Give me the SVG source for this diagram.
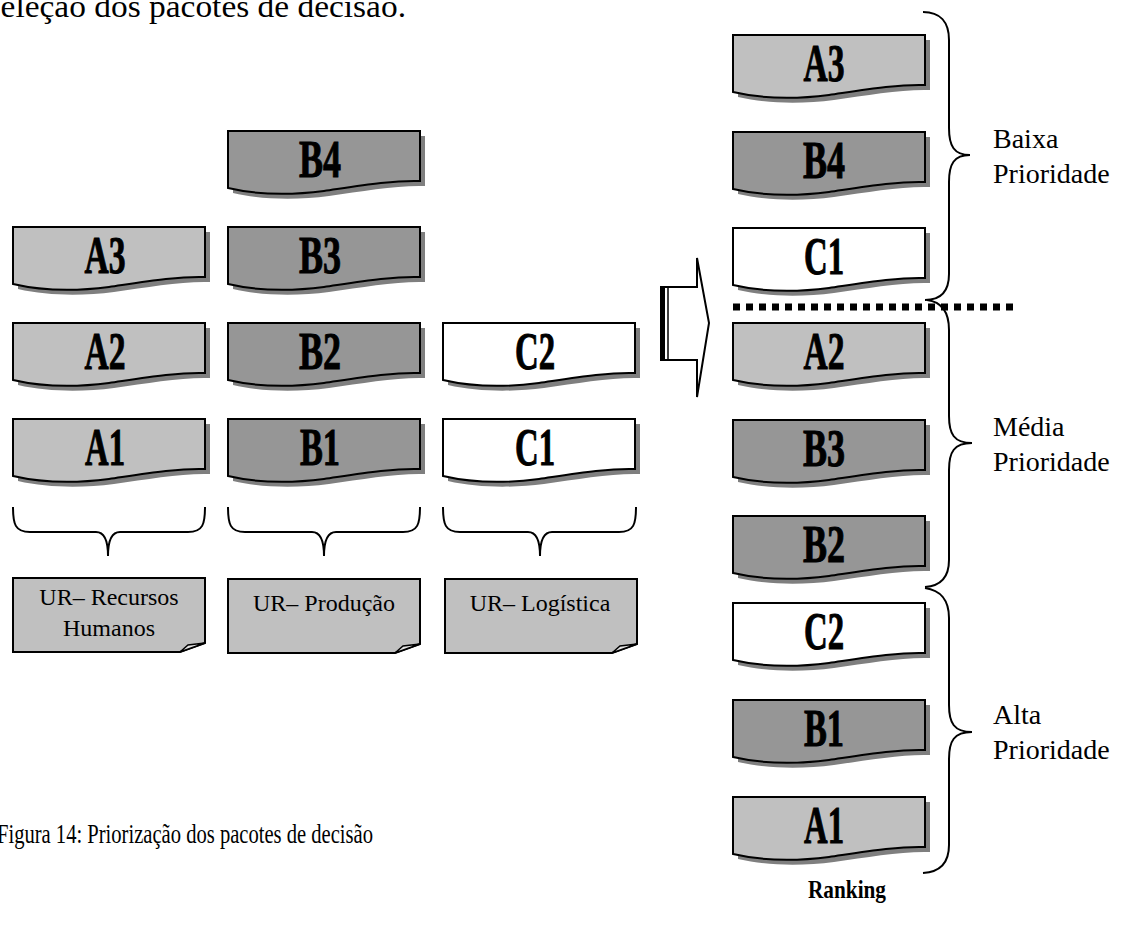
<svg xmlns="http://www.w3.org/2000/svg" xmlns:xlink="http://www.w3.org/1999/xlink" width="1132" height="928" viewBox="0 0 1132 928">
<style>
.sh{fill:#7f7f7f}
.a{fill:#c0c0c0;stroke:#000;stroke-width:2}
.b{fill:#969696;stroke:#000;stroke-width:2}
.c{fill:#fff;stroke:#000;stroke-width:2}
.lbl{font-family:"Liberation Serif",serif;font-weight:bold;font-size:52px;fill:#000;stroke:#000;stroke-width:1;text-anchor:middle}
.ur{fill:#c0c0c0;stroke:#000;stroke-width:2}
.fold{fill:#e6e6e6;stroke:#000;stroke-width:1.5}
.t{font-family:"Liberation Serif",serif;fill:#000}
.tc{font-family:"Liberation Serif",serif;font-size:24px;fill:#000;text-anchor:middle}
.pr{font-family:"Liberation Serif",serif;font-size:28px;fill:#000}
.br{fill:none;stroke:#000;stroke-width:2}
</style>
<defs>
<path id="doc" d="M0,0 H192 V50 C165,49 130,55 96,60 C65,64 30,64 0,57 Z"/>
<path id="urb" d="M0,0 H192 V65 L167,74 H0 Z"/>
<path id="urf" d="M167,74 L175,67 L192,65 Z"/>
</defs>
<rect width="1132" height="928" fill="#fff"/>
<text class="t" x="406" y="17" style="font-size:31px" text-anchor="end" textLength="424" lengthAdjust="spacingAndGlyphs">Seleção dos pacotes de decisão.</text>

<g id="L-B4"><use href="#doc" class="sh" transform="translate(233,136)"/><use href="#doc" class="b" transform="translate(228,131)"/><text class="lbl" x="320" y="177" textLength="42" lengthAdjust="spacingAndGlyphs">B4</text></g>
<g id="L-A3"><use href="#doc" class="sh" transform="translate(18,232)"/><use href="#doc" class="a" transform="translate(13,227)"/><text class="lbl" x="105" y="273" textLength="41" lengthAdjust="spacingAndGlyphs">A3</text></g>
<g id="L-B3"><use href="#doc" class="sh" transform="translate(233,232)"/><use href="#doc" class="b" transform="translate(228,227)"/><text class="lbl" x="320" y="273" textLength="42" lengthAdjust="spacingAndGlyphs">B3</text></g>
<g id="L-A2"><use href="#doc" class="sh" transform="translate(18,328)"/><use href="#doc" class="a" transform="translate(13,323)"/><text class="lbl" x="105" y="369" textLength="41" lengthAdjust="spacingAndGlyphs">A2</text></g>
<g id="L-B2"><use href="#doc" class="sh" transform="translate(233,328)"/><use href="#doc" class="b" transform="translate(228,323)"/><text class="lbl" x="320" y="369" textLength="42" lengthAdjust="spacingAndGlyphs">B2</text></g>
<g id="L-C2"><use href="#doc" class="sh" transform="translate(448,328)"/><use href="#doc" class="c" transform="translate(443,323)"/><text class="lbl" x="535" y="369" textLength="40" lengthAdjust="spacingAndGlyphs">C2</text></g>
<g id="L-A1"><use href="#doc" class="sh" transform="translate(18,424)"/><use href="#doc" class="a" transform="translate(13,419)"/><text class="lbl" x="105" y="465" textLength="40" lengthAdjust="spacingAndGlyphs">A1</text></g>
<g id="L-B1"><use href="#doc" class="sh" transform="translate(233,424)"/><use href="#doc" class="b" transform="translate(228,419)"/><text class="lbl" x="320" y="465" textLength="40" lengthAdjust="spacingAndGlyphs">B1</text></g>
<g id="L-C1"><use href="#doc" class="sh" transform="translate(448,424)"/><use href="#doc" class="c" transform="translate(443,419)"/><text class="lbl" x="535" y="465" textLength="40" lengthAdjust="spacingAndGlyphs">C1</text></g>

<g id="braces-bottom">
<path class="br" d="M13,507 C13,524 15,532 30,532 H96 C104,532 108,540 108,556 C108,540 112,532 120,532 H188 C203,532 205,524 205,507"/>
<path class="br" d="M228,507 C228,524 230,532 245,532 H312 C320,532 324,540 324,556 C324,540 328,532 336,532 H403 C418,532 420,524 420,507"/>
<path class="br" d="M443,507 C443,524 445,532 460,532 H528 C536,532 540,540 540,556 C540,540 544,532 552,532 H619 C634,532 636,524 636,507"/>
</g>

<g id="UR-RH"><use href="#urb" class="ur" transform="translate(13,578)"/><use href="#urf" class="fold" transform="translate(13,578)"/><text class="tc" x="109" y="605">UR– Recursos</text><text class="tc" x="109" y="636">Humanos</text></g>
<g id="UR-P"><use href="#urb" class="ur" transform="translate(228,579)"/><use href="#urf" class="fold" transform="translate(228,579)"/><text class="tc" x="324" y="611">UR– Produção</text></g>
<g id="UR-L"><use href="#urb" class="ur" transform="translate(445,579)"/><use href="#urf" class="fold" transform="translate(445,579)"/><text class="tc" x="540" y="611">UR– Logística</text></g>

<g id="arrow">
<path d="M660,287 H697 V258 L709,323 L697,397 V360 H660" fill="#fff" stroke="#000" stroke-width="2"/>
<rect x="660" y="287" width="5" height="73" fill="#000"/>
<line x1="668" y1="287" x2="668" y2="360" stroke="#000" stroke-width="1.5"/>
</g>

<g id="R-A3"><use href="#doc" class="sh" transform="translate(738,40)"/><use href="#doc" class="a" transform="translate(733,35)"/><text class="lbl" x="824" y="81" textLength="41" lengthAdjust="spacingAndGlyphs">A3</text></g>
<g id="R-B4"><use href="#doc" class="sh" transform="translate(738,137)"/><use href="#doc" class="b" transform="translate(733,132)"/><text class="lbl" x="824" y="178" textLength="42" lengthAdjust="spacingAndGlyphs">B4</text></g>
<g id="R-C1"><use href="#doc" class="sh" transform="translate(738,233)"/><use href="#doc" class="c" transform="translate(733,228)"/><text class="lbl" x="824" y="274" textLength="40" lengthAdjust="spacingAndGlyphs">C1</text></g>
<g id="R-A2"><use href="#doc" class="sh" transform="translate(738,328)"/><use href="#doc" class="a" transform="translate(733,323)"/><text class="lbl" x="824" y="369" textLength="41" lengthAdjust="spacingAndGlyphs">A2</text></g>
<g id="R-B3"><use href="#doc" class="sh" transform="translate(738,425)"/><use href="#doc" class="b" transform="translate(733,420)"/><text class="lbl" x="824" y="466" textLength="42" lengthAdjust="spacingAndGlyphs">B3</text></g>
<g id="R-B2"><use href="#doc" class="sh" transform="translate(738,521)"/><use href="#doc" class="b" transform="translate(733,516)"/><text class="lbl" x="824" y="562" textLength="42" lengthAdjust="spacingAndGlyphs">B2</text></g>
<g id="R-C2"><use href="#doc" class="sh" transform="translate(738,608)"/><use href="#doc" class="c" transform="translate(733,603)"/><text class="lbl" x="824" y="649" textLength="40" lengthAdjust="spacingAndGlyphs">C2</text></g>
<g id="R-B1"><use href="#doc" class="sh" transform="translate(738,705)"/><use href="#doc" class="b" transform="translate(733,700)"/><text class="lbl" x="824" y="746" textLength="40" lengthAdjust="spacingAndGlyphs">B1</text></g>
<g id="R-A1"><use href="#doc" class="sh" transform="translate(738,802)"/><use href="#doc" class="a" transform="translate(733,797)"/><text class="lbl" x="824" y="843" textLength="40" lengthAdjust="spacingAndGlyphs">A1</text></g>

<g id="cut-line"><line x1="733" y1="307" x2="1013" y2="307" stroke="#000" stroke-width="7" stroke-dasharray="7 6"/></g>

<g id="braces-right">
<path class="br" d="M923,12 C940,12 949,22 949,40 V128 C949,146 954,155 970,155 C954,155 949,164 949,182 V274 C949,292 940,300 925,300"/>
<path class="br" d="M927,300 C942,302 949,312 949,330 V416 C949,434 954,443 972,443 C954,443 949,452 949,470 V560 C949,578 940,586 925,587"/>
<path class="br" d="M925,588 C940,590 949,600 949,618 V705 C949,723 954,732 972,732 C954,732 949,741 949,759 V845 C949,863 940,872 923,873"/>
</g>

<g id="labels-right">
<text class="pr" x="993" y="148">Baixa</text><text class="pr" x="993" y="183">Prioridade</text>
<text class="pr" x="993" y="436">Média</text><text class="pr" x="993" y="471">Prioridade</text>
<text class="pr" x="993" y="724">Alta</text><text class="pr" x="993" y="759">Prioridade</text>
</g>

<text class="t" x="-3" y="843" style="font-size:28px" textLength="376" lengthAdjust="spacingAndGlyphs">Figura 14: Priorização dos pacotes de decisão</text>
<text x="847" y="898" font-family="Liberation Serif, serif" font-weight="bold" font-size="26" text-anchor="middle" textLength="78" lengthAdjust="spacingAndGlyphs">Ranking</text>
</svg>
